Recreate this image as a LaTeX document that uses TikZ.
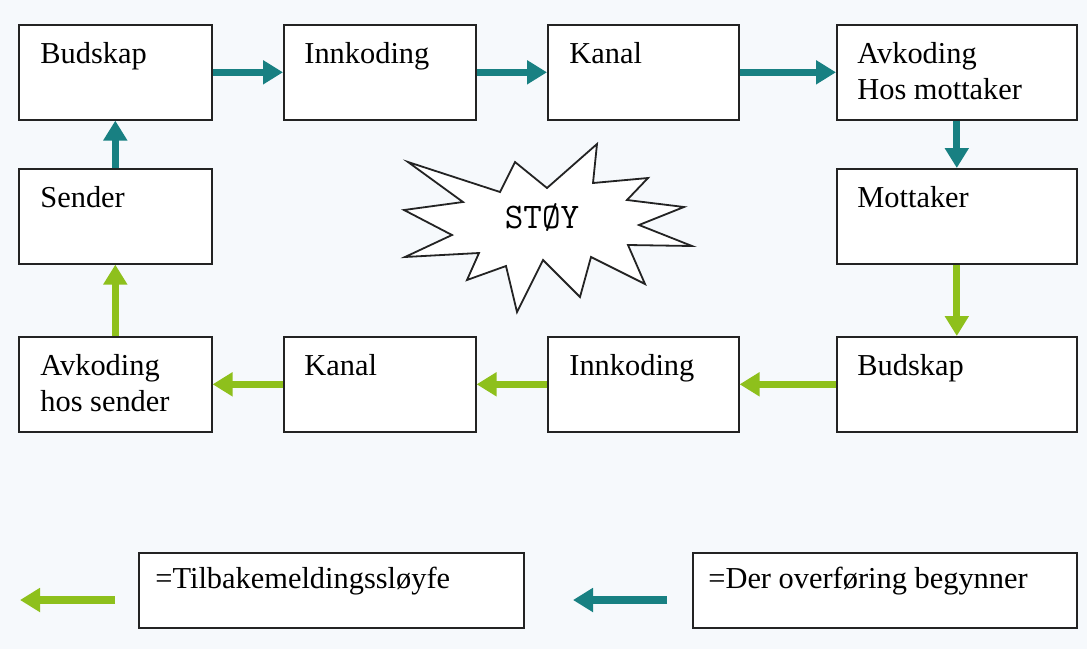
\documentclass[tikz,border=0pt]{standalone}
\usepackage{fontspec}
\setmainfont{Liberation Serif}
\usetikzlibrary{arrows.meta}
\definecolor{bgcol}{RGB}{246,249,252}
\definecolor{tealc}{RGB}{24,128,130}
\definecolor{greenc}{RGB}{142,192,28}
\definecolor{edgec}{RGB}{35,35,35}
\tikzset{
  box/.style={draw=edgec, line width=0.8pt, fill=white, rectangle, inner sep=0pt, anchor=north west, minimum height=47.5pt},
  lbl/.style={inner sep=0pt, anchor=base west, align=left, font=\fontsize{15.2}{18}\selectfont},
  flowarrow/.style={line width=3.6pt, -{Triangle[length=10pt,width=11.5pt]}},
  tealarr/.style={flowarrow, draw=tealc, color=tealc},
  greenarr/.style={flowarrow, draw=greenc, color=greenc},
}
\begin{document}
\begin{tikzpicture}[x=0.5pt,y=-0.5pt]
\fill[bgcol] (0,0) rectangle (1087,649);
\useasboundingbox (0,0) rectangle (1087,649);
% row 1
\node[box, minimum width=96.5pt] (b1) at (18,24) {};
\node[box, minimum width=96pt] (b2) at (283,24) {};
\node[box, minimum width=95.5pt] (b3) at (547,24) {};
\node[box, minimum width=120pt] (b4) at (836,24) {};
% row 2
\node[box, minimum width=96.5pt] (b5) at (18,168) {};
\node[box, minimum width=120pt] (b6) at (836,168) {};
% row 3
\node[box, minimum width=96.5pt] (b7) at (18,336) {};
\node[box, minimum width=96pt] (b8) at (283,336) {};
\node[box, minimum width=95.5pt] (b9) at (547,336) {};
\node[box, minimum width=120pt] (b10) at (836,336) {};
% legend boxes
\node[box, minimum width=192.5pt, minimum height=37.5pt] (lg1) at (138,552) {};
\node[box, minimum width=192pt, minimum height=37.5pt] (lg2) at (692,552) {};
% labels (multi-line nodes: base = last line)
\node[lbl] (t1) at (40,63) {Budskap};
\node[lbl] (t2) at (304,63) {Innkoding};
\node[lbl] (t3) at (569,63) {Kanal};
\node[lbl] (t4) at (857,99) {Avkoding\\Hos mottaker};
\node[lbl] (t5) at (40,207) {Sender};
\node[lbl] (t6) at (857,207) {Mottaker};
\node[lbl] (t7) at (40,411) {Avkoding\\hos sender};
\node[lbl] (t8) at (304,375) {Kanal};
\node[lbl] (t9) at (569,375) {Innkoding};
\node[lbl] (t10) at (857,375) {Budskap};
\node[lbl] (tl1) at (155,588) {=Tilbakemeldingssløyfe};
\node[lbl] (tl2) at (708,588) {=Der overføring begynner};
% noise star
\draw[edgec, line width=0.9pt, fill=white, line join=miter]
  (408,162) -- (500,192) -- (515,162) -- (547,188) -- (597,144) -- (593,183)
  -- (648,178) -- (627,200) -- (684,207) -- (639,225) -- (692,246) -- (628,245)
  -- (645,284) -- (591,257) -- (580,297) -- (543,260) -- (517,312) -- (506,266)
  -- (467,280) -- (479,253) -- (405,257) -- (452,235) -- (404,210) -- (463,202) -- cycle;
\node[inner sep=0pt, font=\ttfamily\fontsize{18}{20}\selectfont] (noise) at (542,217) {STØY};
% forward (teal) arrows
\draw[tealarr] (b1.east) -- (b2.west);
\draw[tealarr] (b2.east) -- (b3.west);
\draw[tealarr] (b3.east) -- (b4.west);
\draw[tealarr] (b4.south) -- (b6.north);
\draw[tealarr] (b5.north) -- (b1.south);
% feedback (green) arrows
\draw[greenarr] (b6.south) -- (b10.north);
\draw[greenarr] (b10.west) -- (b9.east);
\draw[greenarr] (b9.west) -- (b8.east);
\draw[greenarr] (b8.west) -- (b7.east);
\draw[greenarr] (b7.north) -- (b5.south);
% legend arrows
\coordinate (g1s) at (115,600);
\coordinate (g1e) at (20,600);
\coordinate (g2s) at (667,600);
\coordinate (g2e) at (573,600);
\draw[greenarr] (g1s) -- (g1e);
\draw[tealarr] (g2s) -- (g2e);
\end{tikzpicture}
\end{document}
